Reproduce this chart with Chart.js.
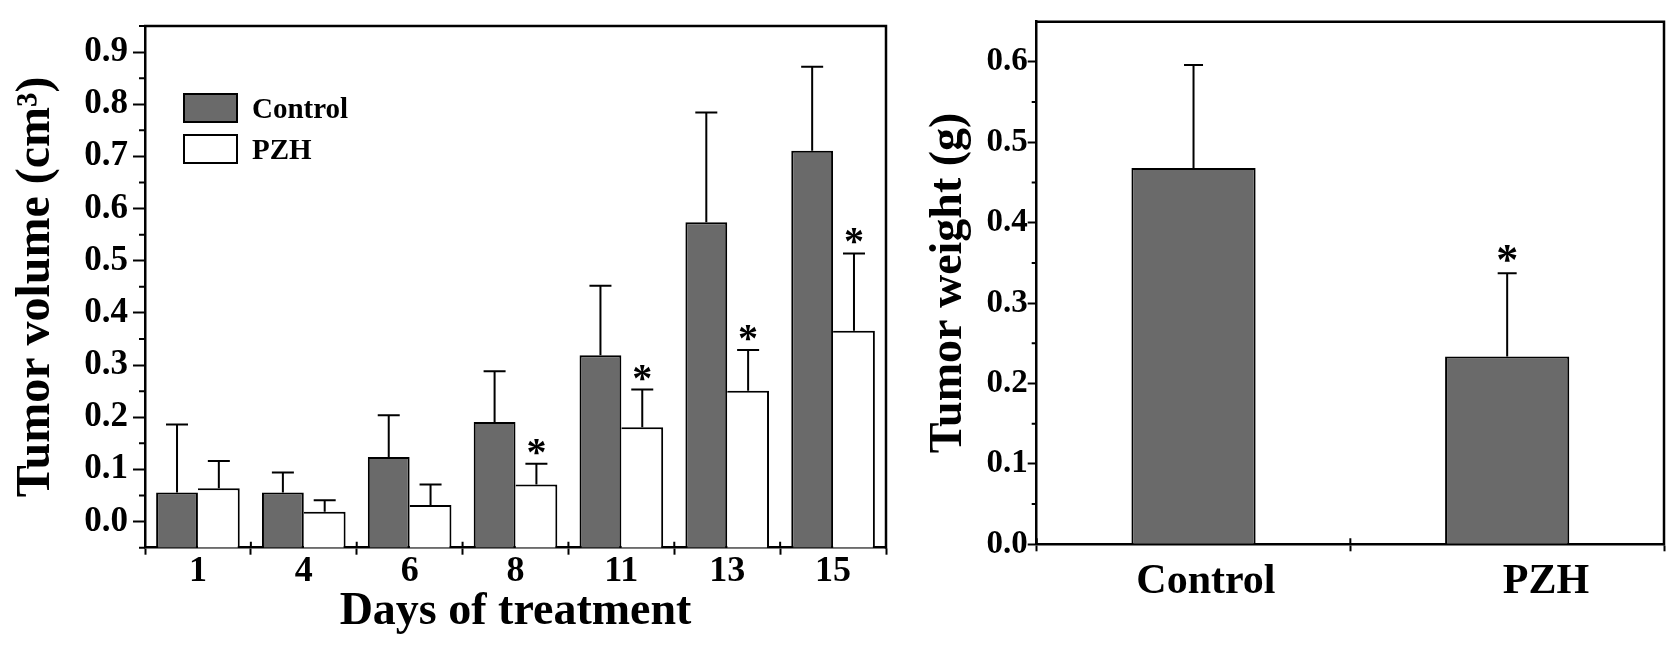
<!DOCTYPE html>
<html><head><meta charset="utf-8">
<script src="https://cdn.jsdelivr.net/npm/chart.js@4.4.1/dist/chart.umd.min.js"></script>
<style>
html,body{margin:0;padding:0;background:#fff;}
#wrap{position:relative;width:1677px;height:651px;overflow:hidden;background:#fff;}
canvas{position:absolute;top:0;}
#c1{left:0;}
#c2{left:900px;}
#legend{position:absolute;left:183px;top:93px;font-family:"Liberation Serif","Times New Roman",serif;font-weight:bold;font-size:29px;color:#000;}
.row{position:absolute;left:0;display:flex;align-items:center;white-space:nowrap;height:30px;line-height:30px;}
.box{width:55px;height:30px;box-sizing:border-box;border:2px solid #000;margin-right:14px;}
</style></head>
<body>
<div id="wrap">
<canvas id="c1" width="900" height="651"></canvas>
<canvas id="c2" width="777" height="651"></canvas>
<div id="legend"></div>
</div>
<script>
// ---------- data ----------
const days = ['1', '4', '6', '8', '11', '13', '15'];
const controlVolume = [0.056, 0.056, 0.124, 0.191, 0.319, 0.574, 0.711];
const controlVolumeSD = [0.130, 0.038, 0.080, 0.097, 0.133, 0.210, 0.161];
const pzhVolume = [0.064, 0.019, 0.032, 0.071, 0.181, 0.251, 0.366];
const pzhVolumeSD = [0.052, 0.022, 0.039, 0.040, 0.072, 0.078, 0.148];
const controlVolumeSig = [false, false, false, false, false, false, false];
const pzhVolumeSig = [false, false, false, true, true, true, true];
const volumeAxisMin = -0.05;
const volumeAxisMax = 0.95;
const volumeTicks = [0.0, 0.1, 0.2, 0.3, 0.4, 0.5, 0.6, 0.7, 0.8, 0.9];
const volumeMinorTicks = [-0.05, 0.05, 0.15, 0.25, 0.35, 0.45, 0.55, 0.65, 0.75, 0.85, 0.95];

const groups = ['Control', 'PZH'];
const tumorWeight = [0.468, 0.2335];
const tumorWeightSD = [0.128, 0.1035];
const tumorWeightSig = [false, true];
const weightAxisMin = 0;
const weightAxisMax = 0.65;
const weightTicks = [0.0, 0.1, 0.2, 0.3, 0.4, 0.5, 0.6];
const weightMinorTicks = [0.05, 0.15, 0.25, 0.35, 0.45, 0.55];

// ---------- styling ----------
const FONT = '"Liberation Serif", "Times New Roman", serif';
const GRAY = '#6a6a6a';

const decor = {
  id: 'decor',
  afterDatasetsDraw(chart, args, o) {
    const ctx = chart.ctx, ca = chart.chartArea;
    const ys = chart.scales.y;
    ctx.save();
    ctx.strokeStyle = '#000';
    ctx.fillStyle = '#000';
    ctx.lineCap = 'butt';
    chart.data.datasets.forEach((ds, di) => {
      const meta = chart.getDatasetMeta(di);
      meta.data.forEach((bar, i) => {
        const top = ys.getPixelForValue(ds.data[i] + o.errors[di][i]);
        ctx.lineWidth = o.errWidth;
        ctx.beginPath();
        ctx.moveTo(bar.x, bar.y);
        ctx.lineTo(bar.x, top);
        ctx.moveTo(bar.x - o.capHalf, top);
        ctx.lineTo(bar.x + o.capHalf, top);
        ctx.stroke();
        if (o.sig[di] && o.sig[di][i]) {
          ctx.font = o.starFont;
          ctx.textAlign = 'center';
          ctx.textBaseline = 'alphabetic';
          const m = ctx.measureText('*');
          const cy = top - o.starGap;
          ctx.fillText('*', bar.x, cy + (m.actualBoundingBoxAscent - m.actualBoundingBoxDescent) / 2);
        }
      });
    });
    // frame (top and right)
    ctx.lineWidth = o.frameWidth;
    ctx.beginPath();
    ctx.moveTo(ca.left - 1, ca.top);
    ctx.lineTo(ca.right, ca.top);
    ctx.lineTo(ca.right, ca.bottom + 1);
    ctx.stroke();
    // minor y ticks
    ctx.lineWidth = 2;
    ctx.beginPath();
    o.minor.forEach(v => {
      const y = ys.getPixelForValue(v);
      ctx.moveTo(ca.left, y);
      ctx.lineTo(ca.left - o.minorLen, y);
    });
    // x ticks crossing into plot area
    const n = chart.data.labels.length, w = (ca.right - ca.left) / n;
    for (let i = 0; i <= n; i++) {
      const x = ca.left + i * w;
      ctx.moveTo(x, ca.bottom);
      ctx.lineTo(x, ca.bottom - o.xTickUp);
    }
    ctx.stroke();
    ctx.restore();
  }
};

// ---------- left chart ----------
const chart1 = new Chart(document.getElementById('c1'), {
  type: 'bar',
  data: {
    labels: days,
    datasets: [
      { label: 'Control', data: controlVolume, base: volumeAxisMin, backgroundColor: GRAY, borderColor: '#000',
        borderWidth: { left: 2, top: 2, right: 2, bottom: 0 }, barPercentage: 1, categoryPercentage: 0.79 },
      { label: 'PZH', data: pzhVolume, base: volumeAxisMin, backgroundColor: '#fff', borderColor: '#000',
        borderWidth: { left: 0, top: 2, right: 2, bottom: 0 }, barPercentage: 1, categoryPercentage: 0.79 }
    ]
  },
  options: {
    responsive: false, animation: false, devicePixelRatio: 1,
    layout: { padding: { left: 0, right: 14, top: 14, bottom: 0 } },
    plugins: {
      legend: { display: false }, tooltip: { enabled: false },
      decor: { errors: [controlVolumeSD, pzhVolumeSD], sig: [controlVolumeSig, pzhVolumeSig],
        errWidth: 2, capHalf: 11, starFont: 'bold 40px ' + FONT, starGap: 17,
        frameWidth: 2.5, minor: volumeMinorTicks, minorLen: 6, xTickUp: 6 }
    },
    scales: {
      x: {
        afterFit: s => { s.height = 103.3; },
        grid: { display: true, drawOnChartArea: false, drawTicks: true, tickLength: 7, tickColor: '#000', tickWidth: 2, offset: true },
        border: { display: true, color: '#000', width: 2.5 },
        ticks: { color: '#000', font: { family: FONT, size: 36, weight: 'bold' }, padding: -5, autoSkip: false, maxRotation: 0 },
        title: { display: true, text: 'Days of treatment', color: '#000', font: { family: FONT, size: 46, weight: 'bold' }, padding: { top: 0, bottom: 11 } }
      },
      y: {
        min: volumeAxisMin, max: volumeAxisMax,
        afterFit: s => { s.width = 145; },
        afterBuildTicks: s => { s.ticks = volumeTicks.map(v => ({ value: v })); },
        grid: { display: true, drawOnChartArea: false, drawTicks: true, tickLength: 12, tickColor: '#000', tickWidth: 2 },
        border: { display: true, color: '#000', width: 2.5 },
        ticks: { color: '#000', font: { family: FONT, size: 35, weight: 'bold' }, padding: 5, callback: v => Number(v).toFixed(1) },
        title: { display: true, text: 'Tumor volume (cm³)', color: '#000', font: { family: FONT, size: 48, weight: 'bold' }, padding: { top: 8, bottom: 0 } }
      }
    }
  },
  plugins: [decor]
});

// HTML legend built from the datasets
const legendEl = document.getElementById('legend');
chart1.data.datasets.forEach((ds, i) => {
  const row = document.createElement('div');
  row.className = 'row';
  row.style.top = (i * 41) + 'px';
  const box = document.createElement('span');
  box.className = 'box';
  box.style.background = ds.backgroundColor;
  const txt = document.createElement('span');
  txt.textContent = ds.label;
  row.appendChild(box);
  row.appendChild(txt);
  legendEl.appendChild(row);
});

// ---------- right chart ----------
new Chart(document.getElementById('c2'), {
  type: 'bar',
  data: {
    labels: groups,
    datasets: [
      { label: 'Tumor weight', data: tumorWeight, backgroundColor: GRAY, borderColor: '#000',
        borderWidth: 2, barPercentage: 1, categoryPercentage: 0.396 }
    ]
  },
  options: {
    responsive: false, animation: false, devicePixelRatio: 1,
    layout: { padding: { left: 0, right: 13, top: 21.7, bottom: 0 } },
    plugins: {
      legend: { display: false }, tooltip: { enabled: false },
      decor: { errors: [tumorWeightSD], sig: [tumorWeightSig],
        errWidth: 2, capHalf: 9.5, starFont: 'bold 44px ' + FONT, starGap: 20,
        frameWidth: 2.5, minor: weightMinorTicks, minorLen: 5, xTickUp: 6 }
    },
    scales: {
      x: {
        afterFit: s => { s.height = 106.7; },
        grid: { display: true, drawOnChartArea: false, drawTicks: true, tickLength: 7, tickColor: '#000', tickWidth: 2, offset: true },
        border: { display: true, color: '#000', width: 2.5 },
        ticks: { color: '#000', font: { family: FONT, size: 42, weight: 'bold' }, padding: 6, autoSkip: false, maxRotation: 0, align: 'end', labelOffset: 82 }
      },
      y: {
        min: weightAxisMin, max: weightAxisMax,
        afterFit: s => { s.width = 136.7; },
        afterBuildTicks: s => { s.ticks = weightTicks.map(v => ({ value: v })); },
        grid: { display: true, drawOnChartArea: false, drawTicks: true, tickLength: 9, tickColor: '#000', tickWidth: 2 },
        border: { display: true, color: '#000', width: 2.5 },
        ticks: { color: '#000', font: { family: FONT, size: 33, weight: 'bold' }, padding: 0, callback: v => Number(v).toFixed(1) },
        title: { display: true, text: 'Tumor weight (g)', color: '#000', font: { family: FONT, size: 46, weight: 'bold' }, padding: { top: 22, bottom: 0 } }
      }
    }
  },
  plugins: [decor]
});
</script>
</body></html>
